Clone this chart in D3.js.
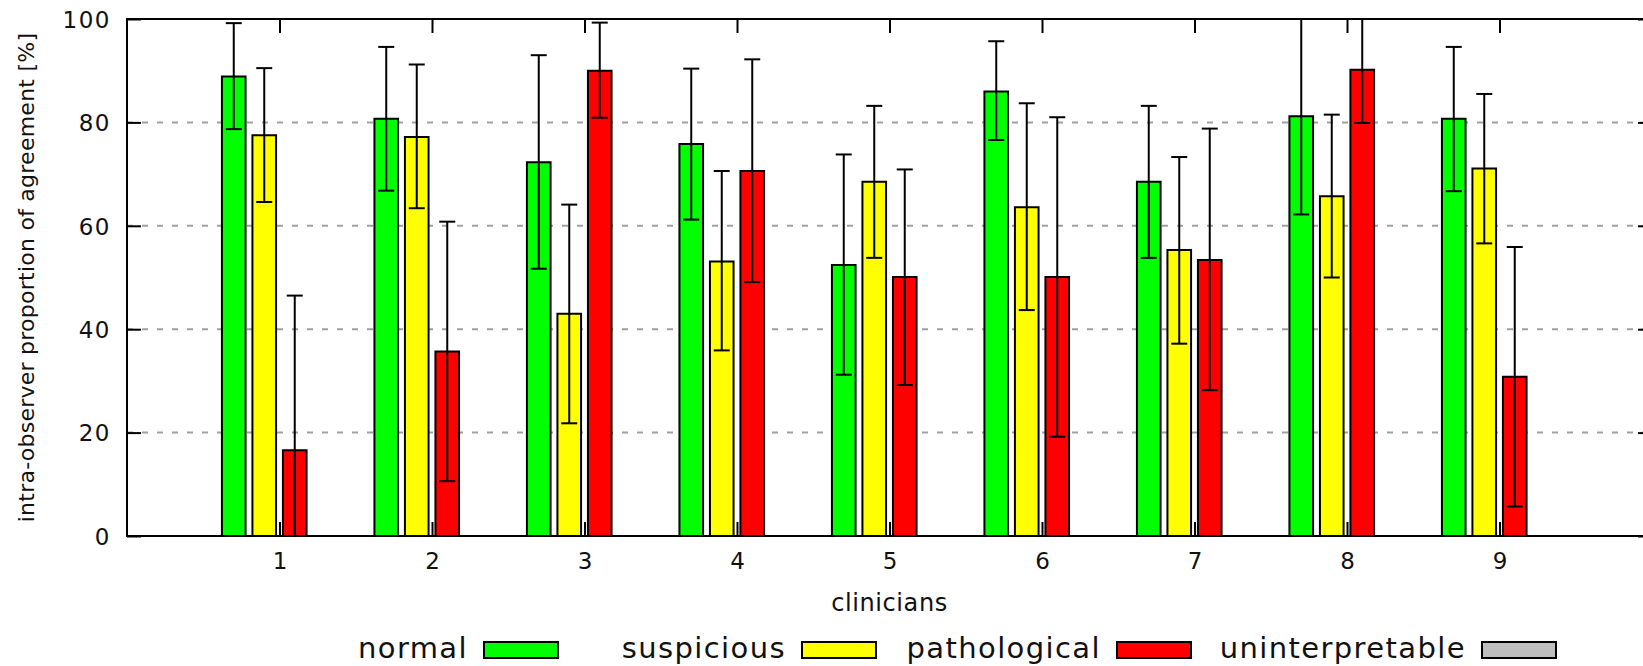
<!DOCTYPE html>
<html>
<head>
<meta charset="utf-8">
<script src="https://cdn.jsdelivr.net/npm/d3@7/dist/d3.min.js"></script>
<style>
    body { margin: 0; background: #fff; }
    text { font-family: "DejaVu Sans", sans-serif; fill: #111; }
</style>
</head>
<body>
<div id="chart"></div>
<script>
// data
const clinicians = ["1", "2", "3", "4", "5", "6", "7", "8", "9"]
const categories = ["normal", "suspicious", "pathological", "uninterpretable"]
const yTicks = [0, 20, 40, 60, 80, 100]

const normalMean = [88.9, 80.7, 72.3, 75.8, 52.4, 86.0, 68.5, 81.2, 80.7]
const normalLow  = [78.7, 66.8, 51.7, 61.2, 31.2, 76.6, 53.8, 62.2, 66.7]
const normalHigh = [99.2, 94.6, 93.0, 90.4, 73.8, 95.7, 83.2, 100.2, 94.6]

const suspiciousMean = [77.5, 77.2, 43.0, 53.1, 68.5, 63.6, 55.3, 65.7, 71.1]
const suspiciousLow  = [64.6, 63.4, 21.8, 35.9, 53.8, 43.7, 37.2, 50.0, 56.6]
const suspiciousHigh = [90.5, 91.2, 64.1, 70.6, 83.2, 83.7, 73.3, 81.5, 85.5]

const pathologicalMean = [16.6, 35.7, 90.0, 70.6, 50.1, 50.1, 53.4, 90.2, 30.8]
const pathologicalLow  = [-13.3, 10.6, 80.9, 49.1, 29.2, 19.2, 28.2, 79.9, 5.7]
const pathologicalHigh = [46.5, 60.8, 99.3, 92.2, 70.9, 81.0, 78.8, 100.5, 55.9]

const uninterpretableMean = [0, 0, 0, 0, 0, 0, 0, 0, 0]

const colors = ["#00ff00", "#ffff00", "#ff0000", "#bebebe"]

const width = 1643, height = 666
const plotLeft = 127, plotTop = 19, plotBottom = 536

const series = [
    { name: categories[0], mean: normalMean, low: normalLow, high: normalHigh },
    { name: categories[1], mean: suspiciousMean, low: suspiciousLow, high: suspiciousHigh },
    { name: categories[2], mean: pathologicalMean, low: pathologicalLow, high: pathologicalHigh },
    { name: categories[3], mean: uninterpretableMean, low: null, high: null }
]

const x = d3.scaleLinear().domain([0, 10]).range([plotLeft, 1652])
const y = d3.scaleLinear().domain([0, 100]).range([plotBottom, plotTop])

const offsets = [-0.3, -0.1, 0.1, 0.3]
const barW = x(0.155) - x(0)

const svg = d3.select("#chart")
    .append("svg")
        .attr("width", width)
        .attr("height", height)

svg.append("defs")
    .append("clipPath")
        .attr("id", "plot-clip")
    .append("rect")
        .attr("x", plotLeft)
        .attr("y", plotTop)
        .attr("width", x(10) - plotLeft)
        .attr("height", plotBottom - plotTop)

// dashed grid
svg.append("g")
    .selectAll("line")
    .data(yTicks.filter(t => t > 0 && t < 100))
    .join("line")
        .attr("x1", plotLeft)
        .attr("x2", x(10))
        .attr("y1", d => y(d))
        .attr("y2", d => y(d))
        .attr("stroke", "#a0a0a0")
        .attr("stroke-width", 2)
        .attr("stroke-dasharray", "6,9")

// bars
const rows = []
series.forEach((s, si) => {
    s.mean.forEach((v, i) => {
        rows.push({ si, i, v, low: s.low ? s.low[i] : null, high: s.high ? s.high[i] : null })
    })
})

svg.append("g")
    .selectAll("path")
    .data(rows)
    .join("path")
        .attr("d", d => {
            const cx = x(d.i + 1 + offsets[d.si])
            const x0 = cx - barW / 2, x1 = cx + barW / 2
            return `M${x0},${y(0)}V${y(d.v)}H${x1}V${y(0)}Z`
        })
        .attr("fill", d => colors[d.si])
        .attr("stroke", "#000")
        .attr("stroke-width", 2)

// error bars
const err = svg.append("g")
    .attr("clip-path", "url(#plot-clip)")
    .attr("stroke", "#000")
    .attr("stroke-width", 2)

const errRows = rows.filter(d => d.low !== null)
err.selectAll("line.stem")
    .data(errRows)
    .join("line")
        .attr("class", "stem")
        .attr("x1", d => x(d.i + 1 + offsets[d.si]))
        .attr("x2", d => x(d.i + 1 + offsets[d.si]))
        .attr("y1", d => y(d.low))
        .attr("y2", d => y(d.high))

err.selectAll("line.cap")
    .data(errRows.flatMap(d => [{ d, v: d.low }, { d, v: d.high }]))
    .join("line")
        .attr("class", "cap")
        .attr("x1", c => x(c.d.i + 1 + offsets[c.d.si]) - 8)
        .attr("x2", c => x(c.d.i + 1 + offsets[c.d.si]) + 8)
        .attr("y1", c => y(c.v))
        .attr("y2", c => y(c.v))

// axes, ticks pointing inward
const tickVals = clinicians.map((c, i) => i + 1)

const axisStyle = g => {
    g.select(".domain").remove()
    g.selectAll(".tick line").attr("stroke", "#000").attr("stroke-width", 2)
    g.selectAll(".tick text")
        .attr("fill", "#111")
        .style("font-family", "'DejaVu Sans', sans-serif")
}

svg.append("g")
    .attr("transform", `translate(0,${plotBottom})`)
    .call(d3.axisBottom(x).tickValues(tickVals).tickFormat(i => clinicians[i - 1])
        .tickSize(-14).tickPadding(17))
    .call(axisStyle)
    .call(g => g.selectAll(".tick text").style("font-size", "23px"))

svg.append("g")
    .attr("transform", `translate(0,${plotTop})`)
    .call(d3.axisTop(x).tickValues(tickVals).tickFormat("").tickSize(-14))
    .call(axisStyle)

svg.append("g")
    .attr("transform", `translate(${plotLeft},0)`)
    .call(d3.axisLeft(y).tickValues(yTicks).tickSize(-14).tickPadding(16))
    .call(axisStyle)
    .call(g => g.selectAll(".tick text")
        .style("font-size", "23px")
        .style("letter-spacing", "1.5px")
        .attr("dy", "0.36em"))

svg.append("g")
    .attr("transform", `translate(${x(10)},0)`)
    .call(d3.axisRight(y).tickValues(yTicks).tickFormat("").tickSize(-14))
    .call(axisStyle)

// frame
svg.append("rect")
    .attr("x", plotLeft)
    .attr("y", plotTop)
    .attr("width", x(10) - plotLeft)
    .attr("height", plotBottom - plotTop)
    .attr("fill", "none")
    .attr("stroke", "#000")
    .attr("stroke-width", 2)

// axis titles
svg.append("text")
    .attr("x", (plotLeft + x(10)) / 2)
    .attr("y", 611)
    .attr("text-anchor", "middle")
    .style("font-size", "24px")
    .style("letter-spacing", "0.6px")
    .text("clinicians")

svg.append("text")
    .attr("transform", `translate(33.5,${(plotTop + plotBottom) / 2}) rotate(-90)`)
    .attr("text-anchor", "middle")
    .style("font-size", "22px")
    .style("letter-spacing", "0.25px")
    .text("intra-observer proportion of agreement [%]")

// legend: label then swatch
const legendEnds = [468, 786, 1101, 1466]
const legendBase = 658

const legend = svg.append("g")
    .selectAll("g")
    .data(categories)
    .join("g")

legend.append("text")
    .attr("x", (d, i) => legendEnds[i])
    .attr("y", legendBase)
    .attr("text-anchor", "end")
    .style("font-size", "29px")
    .style("letter-spacing", "1.4px")
    .text(d => d)

legend.append("rect")
    .attr("x", (d, i) => legendEnds[i] + 16)
    .attr("y", legendBase - 16)
    .attr("width", 74)
    .attr("height", 16)
    .attr("fill", (d, i) => colors[i])
    .attr("stroke", "#000")
    .attr("stroke-width", 2)
</script>
</body>
</html>
